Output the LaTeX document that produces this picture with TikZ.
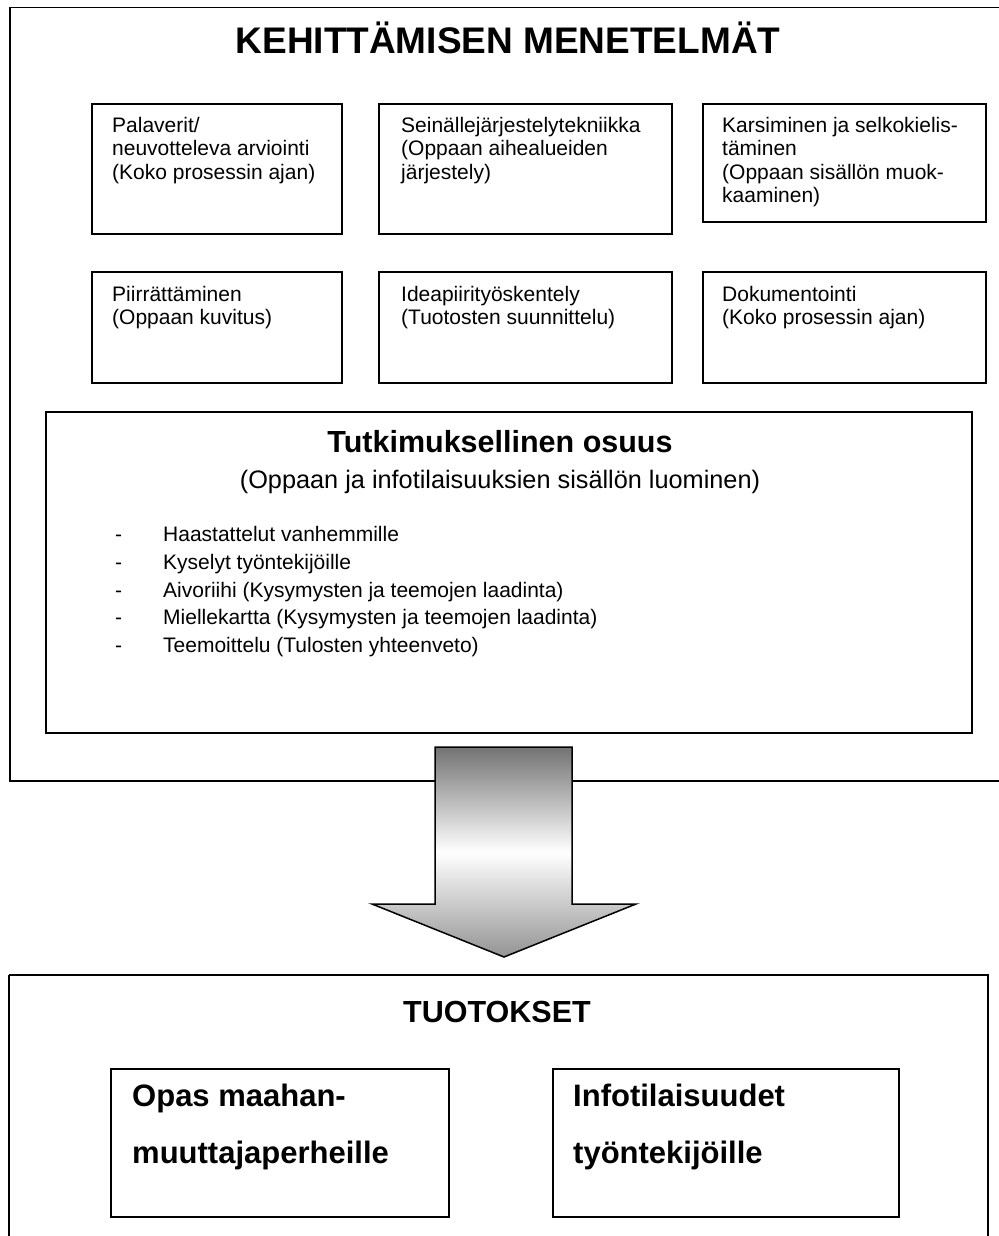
\documentclass[tikz,border=0pt]{standalone}
\usepackage{fontspec}
\setmainfont{Liberation Sans}
\begin{document}
\begin{tikzpicture}[x=1pt,y=-1pt,
  frame/.style={draw=black,line width=1.5pt},
  boxtext/.style={anchor=north west,inner sep=0pt,align=left,font=\fontsize{21}{23.5}\selectfont},
  listtext/.style={anchor=base west,inner sep=0pt,font=\fontsize{21}{24}\selectfont},
  bigbold/.style={inner sep=0pt,font=\fontsize{37}{40}\selectfont\bfseries},
  midbold/.style={inner sep=0pt,font=\fontsize{30.5}{34}\selectfont\bfseries},
  prodtext/.style={anchor=base west,inner sep=0pt,font=\fontsize{31}{34}\selectfont\bfseries}]
\useasboundingbox (0,0) rectangle (998,1236);
% outer frame
\node[frame,inner sep=0pt,minimum width=1000pt,minimum height=773pt,anchor=north west] (outer) at (9,7) {};
\node[bigbold,anchor=base] (title) at (508,54) {KEHITTÄMISEN MENETELMÄT};
% method boxes
\draw[frame] (92,104) rectangle (342,234);
\draw[frame] (379,104) rectangle (672,234);
\draw[frame] (703,104) rectangle (986,222);
\draw[frame] (92,272) rectangle (342,383);
\draw[frame] (379,272) rectangle (672,383);
\draw[frame] (703,272) rectangle (986,383);
\node[boxtext] (t1) at (112,117) {Palaverit/\\neuvotteleva arviointi\\(Koko prosessin ajan)};
\node[boxtext] (t2) at (401,117) {Seinällejärjestelytekniikka\\(Oppaan aihealueiden\\järjestely)};
\node[boxtext] (t3) at (722,117) {Karsiminen ja selkokielis-\\täminen\\(Oppaan sisällön muok-\\kaaminen)};
\node[boxtext] (t4) at (112,286) {Piirrättäminen\\(Oppaan kuvitus)};
\node[boxtext] (t5) at (401,286) {Ideapiirityöskentely\\(Tuotosten suunnittelu)};
\node[boxtext] (t6) at (722,286) {Dokumentointi\\(Koko prosessin ajan)};
% research box
\draw[frame] (46,412) rectangle (972,733);
\node[midbold,anchor=base] (rt) at (500,452) {Tutkimuksellinen osuus};
\node[inner sep=0pt,anchor=base,font=\fontsize{25.3}{28}\selectfont] (rs) at (500,488) {(Oppaan ja infotilaisuuksien sisällön luominen)};
\foreach \y/\t [count=\i] in {541/Haastattelut vanhemmille,569/Kyselyt työntekijöille,597/Aivoriihi (Kysymysten ja teemojen laadinta),624/Miellekartta (Kysymysten ja teemojen laadinta),652/Teemoittelu (Tulosten yhteenveto)}{
  \node[listtext] (d\i) at (115,\y) {-};
  \node[listtext] (l\i) at (163,\y) {\t};
}
% arrow
\shade[top color=black!55,bottom color=black!42,middle color=white,draw=black,line width=1.5pt,line join=miter]
  (435,747) -- (572,747) -- (572,904) -- (636,904) -- (504,957) -- (372,904) -- (435,904) -- cycle;
% products
\draw[frame] (9,975) -- (9,1245) (988,1245) -- (988,975) -- (9,975);
\node[midbold,anchor=base] (pt) at (497,1022) {TUOTOKSET};
\draw[frame] (111,1069) rectangle (449,1217);
\draw[frame] (553,1069) rectangle (899,1217);
\node[prodtext] (p1) at (132,1106) {Opas maahan-};
\node[prodtext] (p2) at (132,1163) {muuttajaperheille};
\node[prodtext] (p3) at (573,1106) {Infotilaisuudet};
\node[prodtext] (p4) at (573,1163) {työntekijöille};
\end{tikzpicture}
\end{document}
